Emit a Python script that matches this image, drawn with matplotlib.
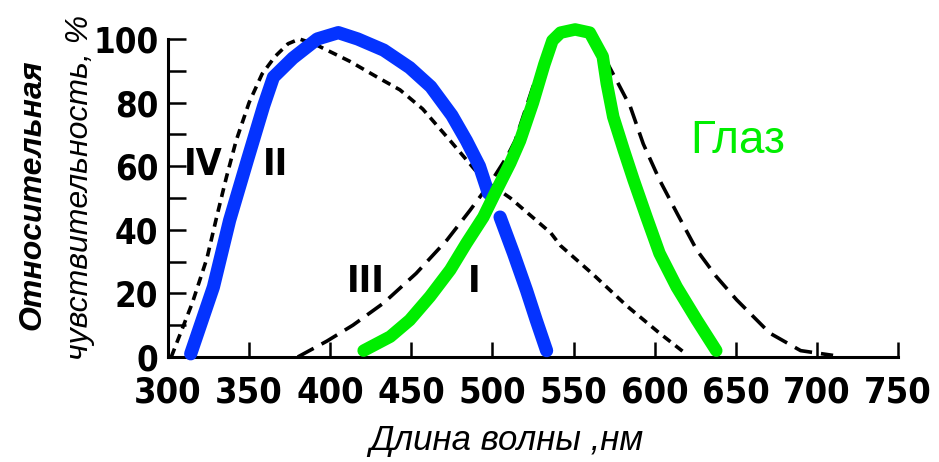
import matplotlib
matplotlib.use('Agg')
import matplotlib.pyplot as plt
from matplotlib.ticker import MultipleLocator

plt.rcParams['lines.scale_dashes'] = False

SANS = ['Liberation Sans', 'DejaVu Sans']

# кривая II (синяя), нарисована двумя штрихами
blue1_x = [314, 328, 338, 349, 359, 365, 377, 392, 405, 417, 433, 449, 462, 475, 484, 492, 497.5]
blue1_y = [1, 22, 43, 62, 79, 88, 94, 100, 102, 100, 96.5, 91, 85, 76, 68, 60, 51.5]
blue2_x = [504.7, 513, 521, 527, 533.4]
blue2_y = [44, 32.6, 21, 11.6, 2]

# глаз
eye_x = [420.6, 437, 449, 461.5, 474, 484, 494.4, 502.6, 511, 517, 525, 532, 537, 542, 551, 560,
         568, 570.5, 574.5, 581, 587, 595, 603, 613.6, 626, 638]
eye_y = [2, 6.4, 11.6, 19, 27.4, 35.8, 44, 52.5, 61, 68, 80, 92, 99.5, 102, 103, 102,
         94.5, 86, 75.5, 65, 55.7, 44, 32.6, 22, 11.6, 2]

# кривая III (длинный штрих)
c3_x = [380, 398, 414, 433, 453, 472, 486, 498.5, 509, 514, 525, 537, 551, 564, 576.5, 585,
        593, 603, 614, 626, 638, 650.5, 671, 690, 710]
c3_y = [0, 5, 10, 17, 26.3, 36.8, 46, 54.6, 63, 68, 85, 99.5, 103, 99, 87, 78.7,
        67, 55.7, 45, 33.6, 25.3, 18, 7.5, 2, 0.5]

# кривая IV / I (короткий штрих)
c4_x = [302, 315, 324, 330, 336, 342, 350, 358, 366, 374, 381, 390, 398, 412, 429, 443, 457,
        474, 494, 511, 536, 542, 562, 583, 603, 618]
c4_y = [0, 17, 31, 44, 56.5, 68, 80, 89, 94.5, 98.5, 100, 98.5, 96.5, 93, 88, 84, 78,
        68, 56, 50, 39, 35, 26, 16, 7.5, 1.5]

fig = plt.figure(figsize=(9.39, 4.62), dpi=100)
ax = fig.add_axes([0.1789, 0.2273, 0.7774, 0.6883])

ax.plot(c4_x, c4_y, color='black', lw=2.6, dashes=(6.5, 4.5), clip_on=False, zorder=2)
ax.plot(c3_x, c3_y, color='black', lw=2.6, dashes=(13, 6.5), clip_on=False, zorder=2)
for bx, by in [(blue1_x, blue1_y), (blue2_x, blue2_y)]:
    ax.plot(bx, by, color='#0433ff', lw=9.5, solid_capstyle='round',
            solid_joinstyle='round', clip_on=False, zorder=3)
ax.plot(eye_x, eye_y, color='#00ee00', lw=9, solid_capstyle='round',
        solid_joinstyle='round', clip_on=False, zorder=4)

ax.set_xlim(300, 750)
ax.set_ylim(0, 100)
for s in ['top', 'right']:
    ax.spines[s].set_visible(False)
for s in ['left', 'bottom']:
    ax.spines[s].set_linewidth(2.2)

ax.set_xticks(range(300, 751, 50))
ax.yaxis.set_major_locator(MultipleLocator(20))
ax.yaxis.set_minor_locator(MultipleLocator(10))
ax.tick_params(axis='y', which='both', direction='in', length=13, width=1.8, pad=7)
ax.tick_params(axis='x', direction='in', length=11, width=1.8, pad=13)
for lab in ax.get_yticklabels():
    lab.set_family('DejaVu Sans')
    lab.set_stretch('condensed')
    lab.set_fontsize(25)
    lab.set_fontweight('bold')
for lab in ax.get_xticklabels():
    lab.set_family('DejaVu Sans')
    lab.set_stretch('condensed')
    lab.set_fontsize(26)
    lab.set_fontweight('bold')

# подписи кривых
for txt, x, y in [('IV', 322, 60.4), ('II', 366, 60.4), ('III', 422, 23.6), ('I', 489, 23.6)]:
    ax.text(x, y, txt, family='DejaVu Sans', stretch='condensed', fontsize=27,
            fontweight='bold', ha='center', va='center')
ax.text(622, 64.2, 'Глаз', family=SANS, fontsize=33, color='#00ee00', ha='left', va='baseline')

fig.text(0.035, 0.578, 'Относительная', family=SANS, fontsize=23, fontweight='bold',
         style='italic', rotation=90, ha='center', va='center')
fig.text(0.085, 0.595, 'чувствительность, %', family=SANS, fontsize=23,
         style='italic', rotation=90, ha='center', va='center')
fig.text(0.539, 0.026, 'Длина волны ,нм', family=SANS, fontsize=25,
         style='italic', ha='center', va='baseline')

fig.savefig('out.png', dpi=100)
